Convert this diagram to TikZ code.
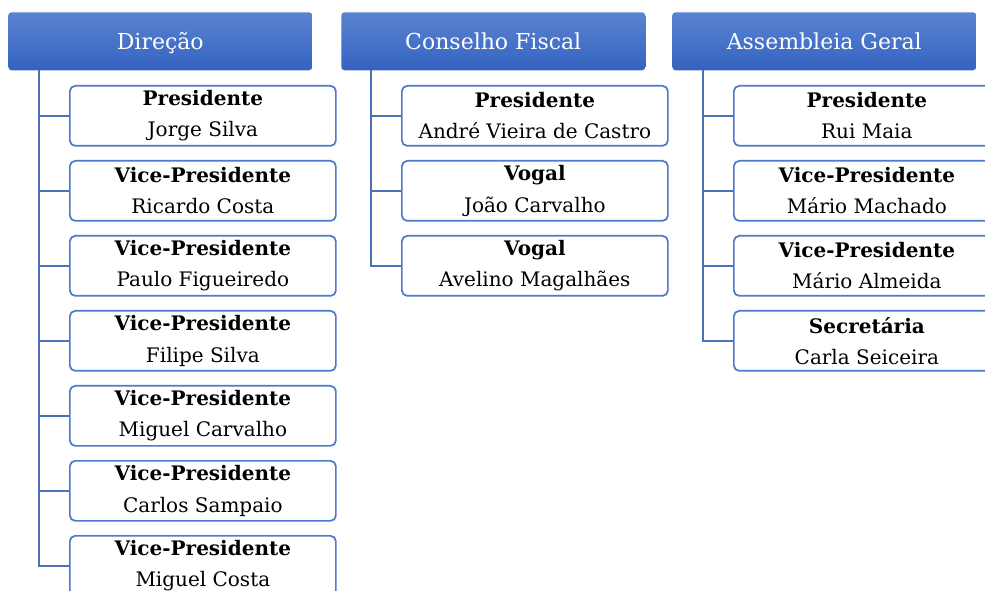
\documentclass[tikz,border=0pt]{standalone}
\usepackage{fontspec}
\setmainfont{DejaVu Serif}
\begin{document}
\begin{tikzpicture}[x=0.75pt,y=-0.75pt,
  hdr/.style={draw=none, rounded corners=2.5pt, top color=hdrtop, bottom color=hdrbot,
    minimum width=228pt, minimum height=43.5pt, anchor=north west, inner sep=0pt,
    text height=14pt, text depth=2pt,
    text=white, font=\fontsize{16.5}{19}\selectfont},
  member/.style={draw=boxblue, line width=1.3pt, rounded corners=4pt, fill=white,
    minimum width=199.5pt, minimum height=45pt, anchor=north west, inner sep=0pt,
    align=center, font=\fontsize{15}{23.5}\selectfont},
  link/.style={draw=linkblue, line width=1.3pt}]
\definecolor{hdrtop}{HTML}{5A84D2}
\definecolor{hdrbot}{HTML}{3462BF}
\definecolor{boxblue}{HTML}{4F7ACB}
\definecolor{linkblue}{HTML}{4A70B8}
\useasboundingbox (0,0) rectangle (985,591);
\fill[white] (0,0) rectangle (985,591);
% headers
\node[hdr] (d) at (8,12) {Direção};
\node[hdr] (c) at (341,12) {Conselho Fiscal};
\node[hdr] (a) at (672,12) {Assembleia Geral};
% Direção members
\node[member] (d1) at (69,85)  {\textbf{Presidente}\\Jorge Silva};
\node[member] (d2) at (69,160) {\textbf{Vice-Presidente}\\Ricardo Costa};
\node[member] (d3) at (69,235) {\textbf{Vice-Presidente}\\Paulo Figueiredo};
\node[member] (d4) at (69,310) {\textbf{Vice-Presidente}\\Filipe Silva};
\node[member] (d5) at (69,385) {\textbf{Vice-Presidente}\\Miguel Carvalho};
\node[member] (d6) at (69,460) {\textbf{Vice-Presidente}\\Carlos Sampaio};
\node[member] (d7) at (69,535) {\textbf{Vice-Presidente}\\Miguel Costa};
% Conselho Fiscal members
\node[member] (c1) at (401,85)  {\textbf{Presidente}\\André Vieira de Castro};
\node[member] (c2) at (401,160) {\textbf{Vogal}\\João Carvalho};
\node[member] (c3) at (401,235) {\textbf{Vogal}\\Avelino Magalhães};
% Assembleia Geral members
\node[member] (a1) at (733,85)  {\textbf{Presidente}\\Rui Maia};
\node[member] (a2) at (733,160) {\textbf{Vice-Presidente}\\Mário Machado};
\node[member] (a3) at (733,235) {\textbf{Vice-Presidente}\\Mário Almeida};
\node[member] (a4) at (733,310) {\textbf{Secretária}\\Carla Seiceira};
% connectors
\coordinate (dt) at (39,70);
\coordinate (ct) at (371,70);
\coordinate (at) at (703,70);
\foreach \m in {d1,d2,d3,d4,d5,d6,d7} \draw[link] (dt) |- (\m.west);
\foreach \m in {c1,c2,c3} \draw[link] (ct) |- (\m.west);
\foreach \m in {a1,a2,a3,a4} \draw[link] (at) |- (\m.west);
\end{tikzpicture}
\end{document}
